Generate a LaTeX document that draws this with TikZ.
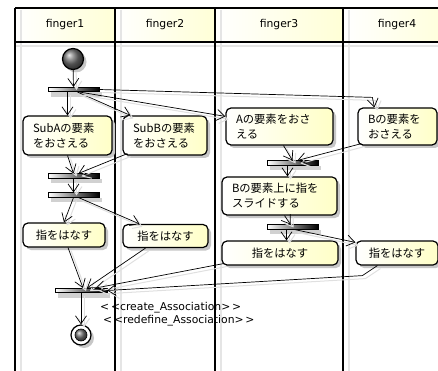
\documentclass[tikz,border=0pt]{standalone}
\usepackage{fontspec}
\setmainfont{Noto Sans CJK JP}
\newfontfamily\latinsans{DejaVu Sans}
\usetikzlibrary{arrows.meta,shadows,calc}
\begin{document}
\begin{tikzpicture}[x=1pt,y=-1pt,
  lane/.style={line width=1.6pt},
  laneshadow/.style={line width=1.5pt, draw=black!10},
  hdr/.style={font=\latinsans\fontsize{10.8}{13}\selectfont, inner sep=0pt},
  act/.style={draw, line width=1.2pt, rounded corners=5pt, left color=white, right color=yellow!22,
    drop shadow={shadow xshift=3pt, shadow yshift=-3pt, fill=black!22, opacity=1},
    font=\fontsize{11.3}{15}\selectfont, align=left, inner xsep=10pt, inner ysep=0pt},
  actc/.style={act, align=center},
  bar/.style={draw, line width=0.6pt, left color=white, right color=black, minimum width=51pt,
    minimum height=4.5pt, inner sep=0pt,
    drop shadow={shadow xshift=3pt, shadow yshift=-5pt, fill=black!18, opacity=1}},
  edge/.style={draw, line width=0.7pt, -{Straight Barb[length=8pt,width=11pt]},
    preaction={draw=black!12, line width=1pt, transform canvas={shift={(3pt,-3pt)}}}}
]
\useasboundingbox (0,0) rectangle (438,371);
\clip (0,0) rectangle (438,371);
\fill[white] (0,0) rectangle (438,371);
% headers
\foreach \a/\b in {15/115,115/215,215/343,343/460}
  \shade[left color=white, right color=yellow!16] (\a,8) rectangle (\b,42);
% lane shadows
\foreach \a in {15,115,215,343}
  \draw[laneshadow] (\a+6,10) -- (\a+6,371);
\draw[line width=1.2pt, black!10] (15,46) -- (438,46);
% lane lines
\draw[lane] (15,8) -- (438,8);
\draw[lane] (15,42) -- (438,42);
\foreach \a in {15,115,215,343}
  \draw[lane] (\a,8) -- (\a,371);
% headers text
\node[hdr] (h1) at (65,25) {finger1};
\node[hdr] (h2) at (165,25) {finger2};
\node[hdr] (h3) at (279,25) {finger3};
\node[hdr] (h4) at (397,25) {finger4};
% initial
\node[circle, draw, line width=1.2pt, minimum size=21pt, inner sep=0pt, ball color=black!55,
  drop shadow={shadow xshift=3pt, shadow yshift=-3pt, fill=black!22, opacity=1}] (init) at (73,59) {};
% bars
\node[bar] (bar1) at (73.5,89.5) {};
\node[bar] (bar2) at (73.5,176) {};
\node[bar] (bar5) at (73.5,195) {};
\node[bar] (bar3) at (292.5,163) {};
\node[bar] (bar4) at (292.5,227) {};
\node[bar, minimum width=52pt] (bar6) at (81,290.5) {};
% activities
\node[act, text width=69pt, minimum height=39pt] (subA) at (67.5,135.5) {SubAの要素\\をおさえる};
\node[act, text width=64pt, minimum height=39pt] (subB) at (165,135.5) {SubBの要素\\をおさえる};
\node[act, text width=87pt, minimum height=37pt] (A) at (279.5,126.5) {Aの要素をおさ\\える};
\node[act, text width=59pt, minimum height=37pt] (B) at (397.5,126.5) {Bの要素を\\おさえる};
\node[act, text width=95pt, minimum height=38pt] (Bs) at (279.5,196) {Bの要素上に指を\\スライドする};
\node[actc, text width=62pt, minimum height=24pt] (R1) at (64,235) {指をはなす};
\node[actc, text width=65pt, minimum height=23pt] (R2) at (165.5,236) {指をはなす};
\node[actc, text width=96pt, minimum height=24pt] (R3) at (280,253) {指をはなす};
\node[actc, text width=62pt, minimum height=24pt] (R4) at (397,253) {指をはなす};
% final
\node[circle, draw, line width=1.2pt, fill=white, minimum size=20pt, inner sep=0pt,
  drop shadow={shadow xshift=3pt, shadow yshift=-3pt, fill=black!22, opacity=1}] (fin) at (81,335) {};
\node[circle, draw, line width=0.6pt, minimum size=12pt, inner sep=0pt, ball color=black!55] (fininner) at (fin) {};
% label
\node[font=\latinsans\fontsize{10.8}{12.5}\selectfont, align=left, anchor=north west, inner sep=0pt] (lab) at (100,302.5)
  {<\,<create\_Association>\,>\\\hspace*{3pt}<\,<redefine\_Association>\,>};
% edges
\draw[edge] (init) -- (bar1);
\draw[edge] (bar1.south -| subA.north) -- (subA.north);
\draw[edge] ($(bar1.south)+(4,0)$) -- ($(subB.north west)+(8,0)$);
\draw[edge] ($(bar1.south)+(6,0)$) -- ($(A.north west)+(0,9)$);
\draw[edge] (bar1.east) -- ($(B.north west)+(15,-10)$) -- ($(B.north west)+(17,0)$);
\draw[edge] (subA.south) -- (bar2.north);
\draw[edge] ($(subB.south west)+(5,-2)$) -- ($(bar2.north)+(5,0)$);
\draw[edge] (bar2) -- (bar5);
\draw[edge] (bar5.south) -- (R1.north);
\draw[edge] ($(bar5.south)+(5,0)$) -- ($(R2.north west)+(17,0)$);
\draw[edge] ($(A.south)+(4,0)$) -- (bar3.north);
\draw[edge] ($(B.south west)+(4,-2)$) -- ($(bar3.north)+(5,0)$);
\draw[edge] ($(bar3.south)+(-5,0)$) coordinate (t1) -- (t1 |- Bs.north);
\draw[edge] ($(Bs.south)+(5,0)$) -- ($(bar4.north)+(-2,0)$);
\draw[edge] ($(bar4.south)+(-6,0)$) coordinate (t2) -- (t2 |- R3.north);
\draw[edge] ($(bar4.south)+(2,0)$) -- ($(R4.north west)+(0,2)$);
\draw[edge] ($(R1.south)+(4,0)$) -- ($(bar6.north)+(2,0)$);
\draw[edge] ($(R2.south)+(-20,0)$) -- ($(bar6.north)+(6,0)$);
\draw[edge] ($(R3.south west)+(2,-2)$) -- ($(bar6.north)+(15,0)$);
\draw[edge] ($(R4.south west)+(22,0)$) -- ($(R4.south west)+(7,10)$) -- (bar6.east);
\draw[edge] (bar6) -- (fin);
\end{tikzpicture}
\end{document}
